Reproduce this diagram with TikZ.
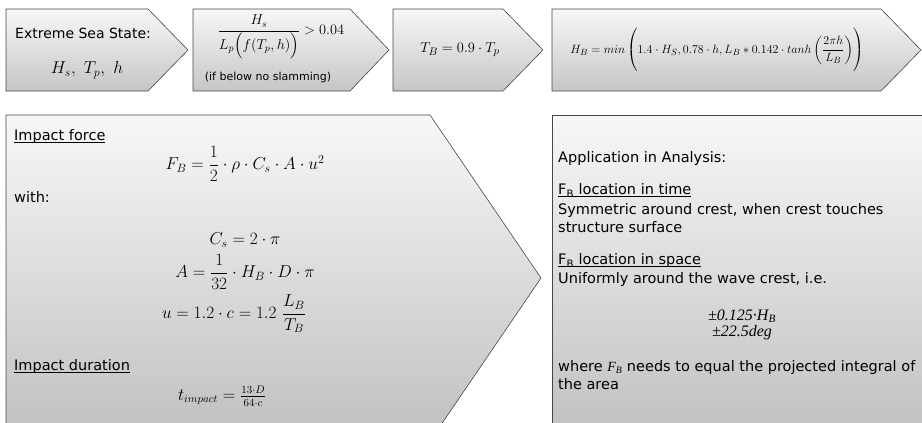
\documentclass[tikz,border=0pt]{standalone}
\usepackage{amsmath}
\usepackage[no-math]{fontspec}
\setmainfont{DejaVu Sans}
\newfontfamily\serifit{Liberation Serif}
\newcommand{\ulx}[1]{\underline{\smash{#1}}}
\begin{document}
\begin{tikzpicture}[x=1pt,y=-1pt,
  chev/.style={draw=gray!55!black, line width=0.6pt, top color=gray!6, bottom color=gray!45},
  bigbox/.style={draw=gray!55!black, line width=0.6pt, top color=gray!6, bottom color=gray!50},
  txt/.style={anchor=west, inner sep=0pt, font=\fontsize{14.5}{17}\selectfont},
  ttxt/.style={anchor=west, inner sep=0pt, font=\fontsize{14}{17}\selectfont},
  mth/.style={inner sep=0pt, font=\fontsize{13}{15}\selectfont},
  bmth/.style={inner sep=0pt, font=\fontsize{17}{20}\selectfont},
  small/.style={inner sep=0pt, font=\fontsize{11}{13}\selectfont},
  pmtxt/.style={inner sep=0pt, font=\fontsize{16}{18}\selectfont\serifit\itshape}]
\useasboundingbox (0,0) rectangle (922,423);
\clip (0,0) rectangle (922,423);
% top row
\shade[chev] (6,9) -- (148,9) -- (188,50) -- (148,91) -- (6,91) -- cycle;
\shade[chev] (193,9) -- (350,9) -- (389,50) -- (350,91) -- (193,91) -- cycle;
\shade[chev] (393,9) -- (503,9) -- (543,50) -- (503,91) -- (393,91) -- cycle;
\shade[chev] (552,9) -- (881,9) -- (921,50) -- (881,91) -- (552,91) -- cycle;
% bottom row
\shade[bigbox] (6,115) -- (430,115) -- (541,278) -- (430,441) -- (6,441) -- cycle;
\shade[bigbox] (552,115) -- (930,115) -- (930,441) -- (552,441) -- cycle;

% box 1
\node[ttxt] (ess) at (15,33) {Extreme Sea State:};
\node[bmth] (hs) at (87,70) {$H_s,\ T_p,\ h$};
% box 2
\node[inner sep=0pt, font=\fontsize{14}{16}\selectfont] (crit) at (281,37) {$\displaystyle\frac{H_s}{L_p\Bigl(f(T_p,h)\Bigr)} > 0.04$};
\node[small] (noslam) at (268,77) {(if below no slamming)};
% box 3
\node[inner sep=0pt, font=\fontsize{15}{17}\selectfont] (tb) at (460,50) {$T_B = 0.9\cdot T_p$};
% box 4
\node[mth] (hb) at (717,50) {$H_B = min\left(\rule[-19pt]{0pt}{44pt}1.4\cdot H_S, 0.78\cdot h, L_B * 0.142\cdot tanh\left(\dfrac{2\pi h}{L_B}\right)\right)$};

% big box
\node[txt] (impf) at (14,142) {\ulx{Impact force}};
\node[bmth, font=\fontsize{18}{21}\selectfont] (fb) at (245,164) {$F_B = \dfrac{1}{2}\cdot\rho\cdot C_s\cdot A\cdot u^2$};
\node[txt] (with) at (14,197) {with:};
\node[bmth] (cs) at (245,240) {$C_s = 2\cdot\pi$};
\node[bmth] (aa) at (245,272) {$A = \dfrac{1}{32}\cdot H_B\cdot D\cdot\pi$};
\node[bmth] (uu) at (234,314) {$u = 1.2\cdot c = 1.2\ \dfrac{L_B}{T_B}$};
\node[txt] (impd) at (14,372) {\ulx{Impact duration}};
\node[inner sep=0pt, font=\fontsize{16}{19}\selectfont] (ti) at (222,396) {$t_{impact} = \genfrac{}{}{0.4pt}{1}{\scriptstyle 13\cdot D\rule[-2pt]{0pt}{2pt}}{\scriptstyle\rule{0pt}{9pt}64\cdot c}$};

% right box
\node[txt] (app) at (558,158) {Application in Analysis:};
\node[txt] (lt) at (558,196) {\ulx{F\textsubscript{B} location in time}};
\node[txt] (sym) at (558,210) {Symmetric around crest, when crest touches};
\node[txt] (ss) at (558,227) {structure surface};
\node[txt] (ls) at (558,266) {\ulx{F\textsubscript{B} location in space}};
\node[txt] (uni) at (558,279) {Uniformly around the wave crest, i.e.};
\node[pmtxt] (pm1) at (742,316) {±0.125·H\textsubscript{B}};
\node[pmtxt] (pm2) at (742,333) {±22.5deg};
\node[txt] (wh) at (558,367) {where {\serifit\itshape\fontsize{14}{16}\selectfont F\textsubscript{B}} needs to equal the projected integral of};
\node[txt] (ar) at (558,384) {the area};
\end{tikzpicture}
\end{document}
